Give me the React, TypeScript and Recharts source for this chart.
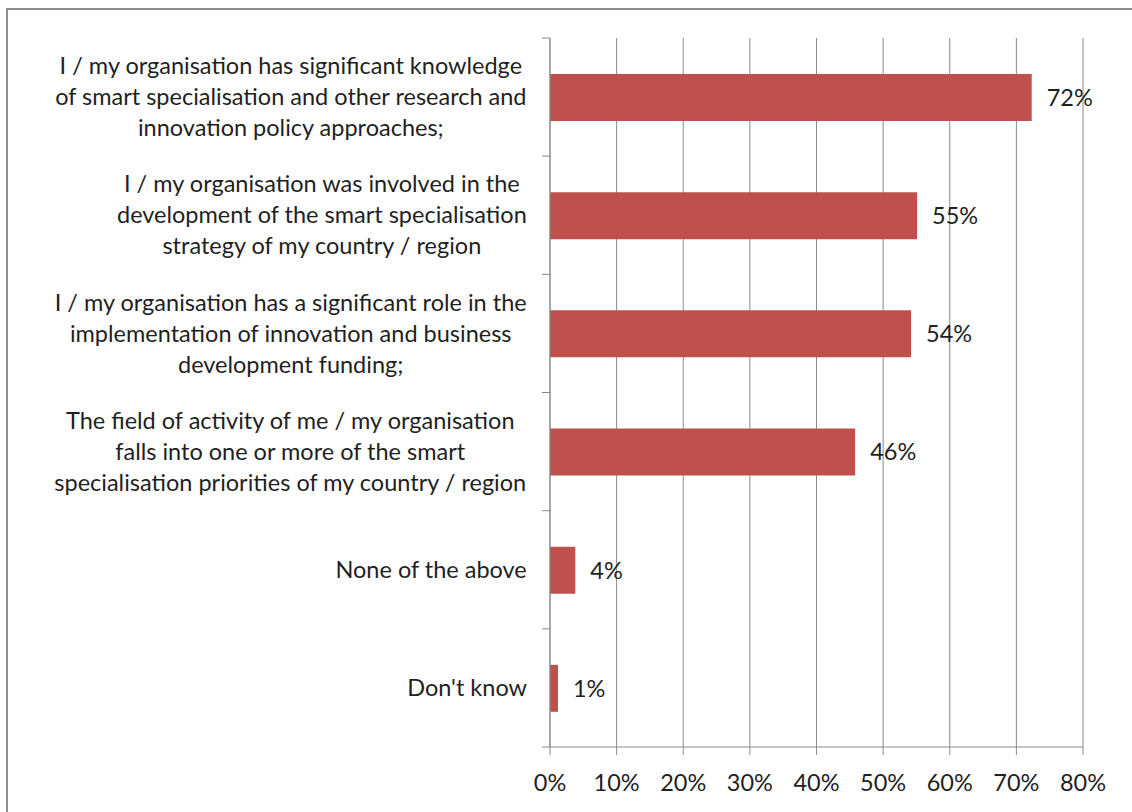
import { BarChart, Bar, XAxis, YAxis, CartesianGrid, LabelList } from "recharts";

const categories = [
  "I / my organisation has significant knowledge\nof smart specialisation and other research and\ninnovation policy approaches;",
  "I / my organisation was involved in the\ndevelopment of the smart specialisation\nstrategy of my country / region",
  "I / my organisation has a significant role in the\nimplementation of innovation and business\ndevelopment funding;",
  "The field of activity of me / my organisation\nfalls into one or more of the smart\nspecialisation priorities of my country / region",
  "None of the above",
  "Don't know",
];
const shares = [72.3, 55.1, 54.2, 45.8, 3.8, 1.2];
const xTicks = [0, 10, 20, 30, 40, 50, 60, 70, 80];

const data = categories.map((name, i) => ({ name, share: shares[i] }));

const FONT = "Lato";
const FONT_SIZE = 23.5;
const LINE_H = 31;
const GRID = "#8a8a8a";
const TEXT = "#1f1f1f";
const BAR = "#c0504d";

let ctx: CanvasRenderingContext2D | null = null;
function textWidth(s: string) {
  if (!ctx) ctx = document.createElement("canvas").getContext("2d");
  if (!ctx) return s.length * 10;
  ctx.font = `${FONT_SIZE}px ${FONT}`;
  return ctx.measureText(s).width;
}

// category label: lines centred on each other, block right-aligned to the axis,
// tick marks sit between categories (Excel style)
function CategoryTick(props: any) {
  const { x, y, payload, index, visibleTicksCount } = props;
  const lines = String(payload.value).split("\n");
  const maxW = Math.max(...lines.map(textWidth));
  const cx = x - 23 - maxW / 2;
  const half = payload.offset ?? 59;
  const n = lines.length;
  return (
    <g>
      <line x1={x - 8} x2={x} y1={y - half} y2={y - half} stroke={GRID} />
      {index === visibleTicksCount - 1 && (
        <line x1={x - 8} x2={x} y1={y + half} y2={y + half} stroke={GRID} />
      )}
      <text textAnchor="middle" fontFamily={FONT} fontSize={FONT_SIZE} fill={TEXT}>
        {lines.map((l, i) => (
          <tspan key={i} x={cx} y={y + (i - (n - 1) / 2) * LINE_H} dy="0.35em">
            {l}
          </tspan>
        ))}
      </text>
    </g>
  );
}

export default function App() {
  return (
    <div
      style={{
        position: "absolute",
        left: 0,
        top: 0,
        width: 1132,
        height: 812,
        overflow: "hidden",
        background: "#fff",
      }}
    >
      <div
        style={{
          position: "absolute",
          left: 6,
          top: 8,
          width: 1200,
          height: 900,
          border: "2px solid #8e8e8e",
        }}
      />
      <div style={{ position: "absolute", left: 0, top: 0 }}>
        <BarChart
          width={1132}
          height={812}
          data={data}
          layout="vertical"
          margin={{ top: 38, right: 49, bottom: 0, left: 0 }}
        >
          <CartesianGrid horizontal={false} stroke={GRID} />
          <XAxis
            type="number"
            domain={[0, 80]}
            ticks={xTicks}
            interval={0}
            tickFormatter={(v) => `${v}%`}
            axisLine={{ stroke: GRID }}
            tickLine={{ stroke: GRID }}
            tickSize={8}
            tickMargin={19}
            tick={{ fill: TEXT, fontSize: FONT_SIZE, fontFamily: FONT }}
            height={65}
          />
          <YAxis
            type="category"
            dataKey="name"
            width={550}
            interval={0}
            axisLine={{ stroke: GRID }}
            tickLine={false}
            tickSize={0}
            tickMargin={0}
            tick={<CategoryTick />}
          />
          <Bar dataKey="share" fill={BAR} barSize={47} isAnimationActive={false}>
            <LabelList
              dataKey="share"
              position="right"
              offset={15}
              formatter={(v: any) => `${Math.round(Number(v))}%`}
              style={{ fill: TEXT, fontSize: FONT_SIZE, fontFamily: FONT }}
            />
          </Bar>
        </BarChart>
      </div>
    </div>
  );
}
